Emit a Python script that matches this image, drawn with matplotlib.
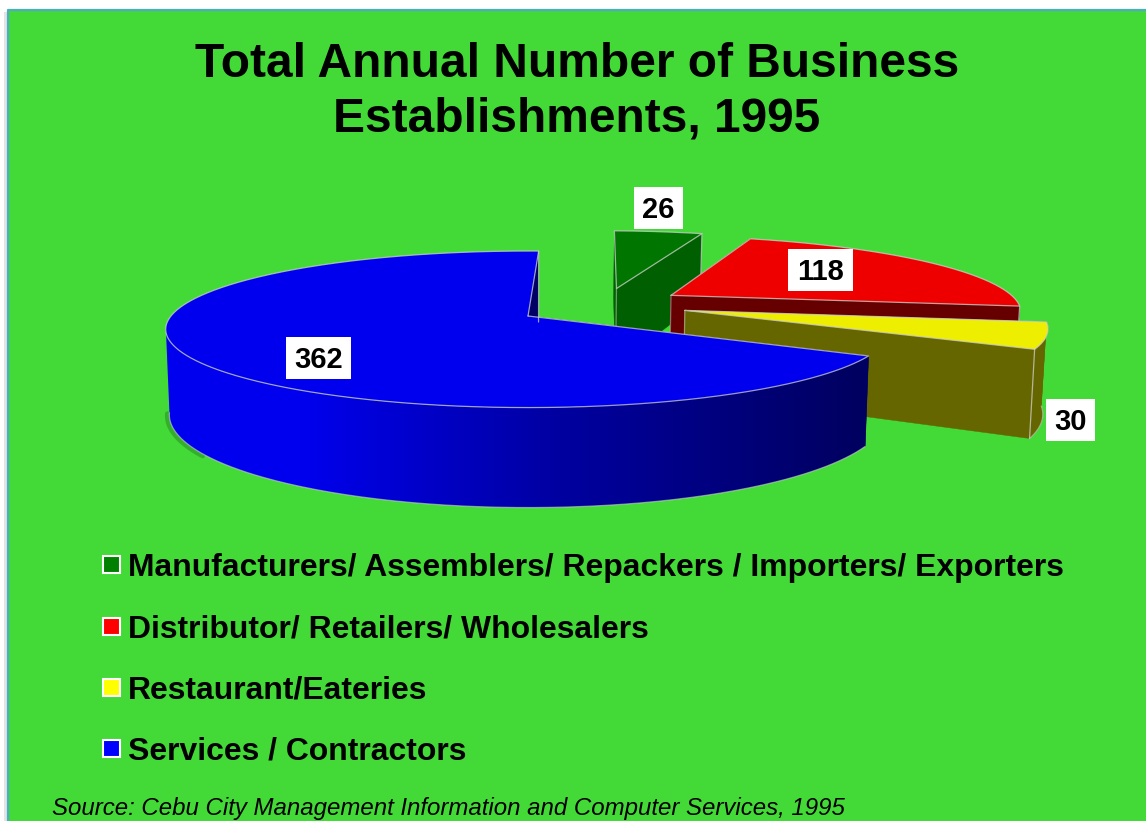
import numpy as np
import matplotlib
matplotlib.use('Agg')
import matplotlib.pyplot as plt
from matplotlib.patches import Polygon, Rectangle

plt.rcParams['font.family'] = ['Liberation Sans', 'DejaVu Sans']

title = 'Total Annual Number of Business\nEstablishments, 1995'
source = 'Source: Cebu City Management Information and Computer Services, 1995'
categories = ['Manufacturers/ Assemblers/ Repackers / Importers/ Exporters',
              'Distributor/ Retailers/ Wholesalers',
              'Restaurant/Eateries',
              'Services / Contractors']
values = [26, 118, 30, 362]

legend_colors = ['#008000', '#ff0000', '#ffff00', '#0000ff']
top_colors = ['#007500', '#ee0000', '#eeee00', '#0000ee']
wall_colors = ['#005f00', '#660000', '#666600', '#000066']
# explode offsets on the disk, and where the white value boxes sit
offsets = [(0.264, 0.385), (0.42, 0.285), (0.445, 0.075), (0.0, 0.0)]
box_xy = [(634, 187, 49, 42), (788, 249, 65, 42), (1046, 399, 49, 42), (286, 337, 65, 42)]

BG = '#43d937'
EDGE = '#d0d0d0'
CX, CY = 528, 316
RX, RY = 357, 76
P = 0.17
DEPTH = 83
START = 88.0


def project(x, y):
    s = 1 / (1 + P * y)
    return CX + RX * x * s, CY - RY * y * s


def drop(x, y):
    # same disk point, on the bottom face of the slice
    s = 1 / (1 + P * y)
    px, py = project(x, y)
    return CX + (px - CX) * 0.99, py + DEPTH * s


def wall(ax, pts_a, pts_b, color, z=2):
    pts = [project(*pts_a), project(*pts_b), drop(*pts_b), drop(*pts_a)]
    ax.add_patch(Polygon(pts, closed=True, fc=color, ec=color, lw=0.3, zorder=z))


def edge(ax, pts, lw=0.9, alpha=0.75, z=3):
    pts = np.array(pts)
    if len(pts) < 2:
        return
    ax.plot(pts[:, 0], pts[:, 1], color=EDGE, lw=lw, alpha=alpha, zorder=z,
            solid_capstyle='round')


fig = plt.figure(figsize=(11.46, 8.21), dpi=100)
fig.patch.set_facecolor('white')
ax = fig.add_axes([0, 0, 1, 1])

# slide background and its frame
ax.add_patch(Rectangle((4, 12), 3, 809, fc='#e4e4e4', ec='none', zorder=0))
ax.add_patch(Rectangle((7, 10), 1139, 811, fc=BG, ec='none', zorder=0))
ax.plot([7.5, 7.5, 1146], [821, 10.5, 10.5], color='#4bacc6', lw=1.6, zorder=1)

# slices run clockwise from START, painted back to front
total = sum(values)
a0 = START
for i, v in enumerate(values):
    a1 = a0 - v / total * 360
    th = np.radians(np.linspace(a0, a1, 400))
    ox, oy = offsets[i]
    xs = ox + np.cos(th)
    ys = oy + np.sin(th)
    apex = (ox, oy)
    first = (xs[0], ys[0])
    last = (xs[-1], ys[-1])
    # arc past the screen's left/right extreme turns away from the viewer
    front = np.sin(th) < -0.14

    zb = 2 + i
    wall(ax, apex, first, wall_colors[i], zb)
    wall(ax, apex, last, wall_colors[i], zb)

    # outer wall of the slice, seen part only
    up = [project(x, y) for x, y in zip(xs[front], ys[front])]
    down = [drop(x, y) for x, y in zip(xs[front], ys[front])]
    if i == 3:
        # soft shadow under the left end of the big slice
        sh = np.array([p for p in down if p[0] < 205])
        ax.plot(sh[:, 0] - 2, sh[:, 1] + 1, color='#1f6f1f', lw=3.5, alpha=0.4,
                zorder=1.5, solid_capstyle='round')

        # blue wall darkens from left to right
        blues = np.interp(np.arange(1146), [0, 300, 560, 860, 1146],
                          [238, 238, 160, 96, 96])
        grad = np.zeros((1, 1146, 3))
        grad[0, :, 2] = blues / 255
        im = ax.imshow(grad, extent=(0, 1146, 821, 0), aspect='auto', zorder=zb + 0.1)
        clip = Polygon(up + down[::-1], closed=True, transform=ax.transData)
        im.set_clip_path(clip)
    elif len(up) > 1:
        ax.add_patch(Polygon(up + down[::-1], closed=True, fc=wall_colors[i],
                             ec=wall_colors[i], lw=0.3, zorder=zb + 0.1))

    top = [project(ox, oy)] + [project(x, y) for x, y in zip(xs, ys)]
    ax.add_patch(Polygon(top, closed=True, fc=top_colors[i], ec='none', zorder=zb + 0.2))

    # pale outlines of the slice
    edge(ax, top + [top[0]], z=zb + 0.3)
    edge(ax, [project(*last), drop(*last)], z=zb + 0.3)
    edge(ax, [project(*apex), drop(*apex)], alpha=0.5, z=zb + 0.15)
    edge(ax, down, alpha=0.6, z=zb + 0.3)
    a0 = a1

# value labels on white boxes
for v, (x, y, w, h) in zip(values, box_xy):
    ax.add_patch(Rectangle((x, y), w, h, fc='white', ec='none', zorder=10))
    ax.text(x + w / 2, y + h / 2 + 2.5, str(v), fontsize=21, fontweight='bold',
            ha='center', va='center', color='black', zorder=11)

ax.text(577, 92, title, fontsize=34.5, fontweight='bold', ha='center', va='center',
        linespacing=1.27, color='black', zorder=11)

# legend
leg_y = [568, 629.5, 690.5, 752]
box_y = [565, 626.5, 687.5, 749]
for name, c, y, by in zip(categories, legend_colors, leg_y, box_y):
    ax.add_patch(Rectangle((103, by - 8.5), 17, 17, fc=c, ec='white', lw=1.5, zorder=10))
    ax.text(128, y, name, fontsize=22.95, fontweight='bold', ha='left', va='center',
            color='black', zorder=11)

ax.text(52, 809, source, fontsize=17.3, style='italic', ha='left', va='center',
        color='black', zorder=11)

ax.set_xlim(0, 1146)
ax.set_ylim(821, 0)
ax.axis('off')
fig.savefig('out.png', dpi=100, facecolor='white')
